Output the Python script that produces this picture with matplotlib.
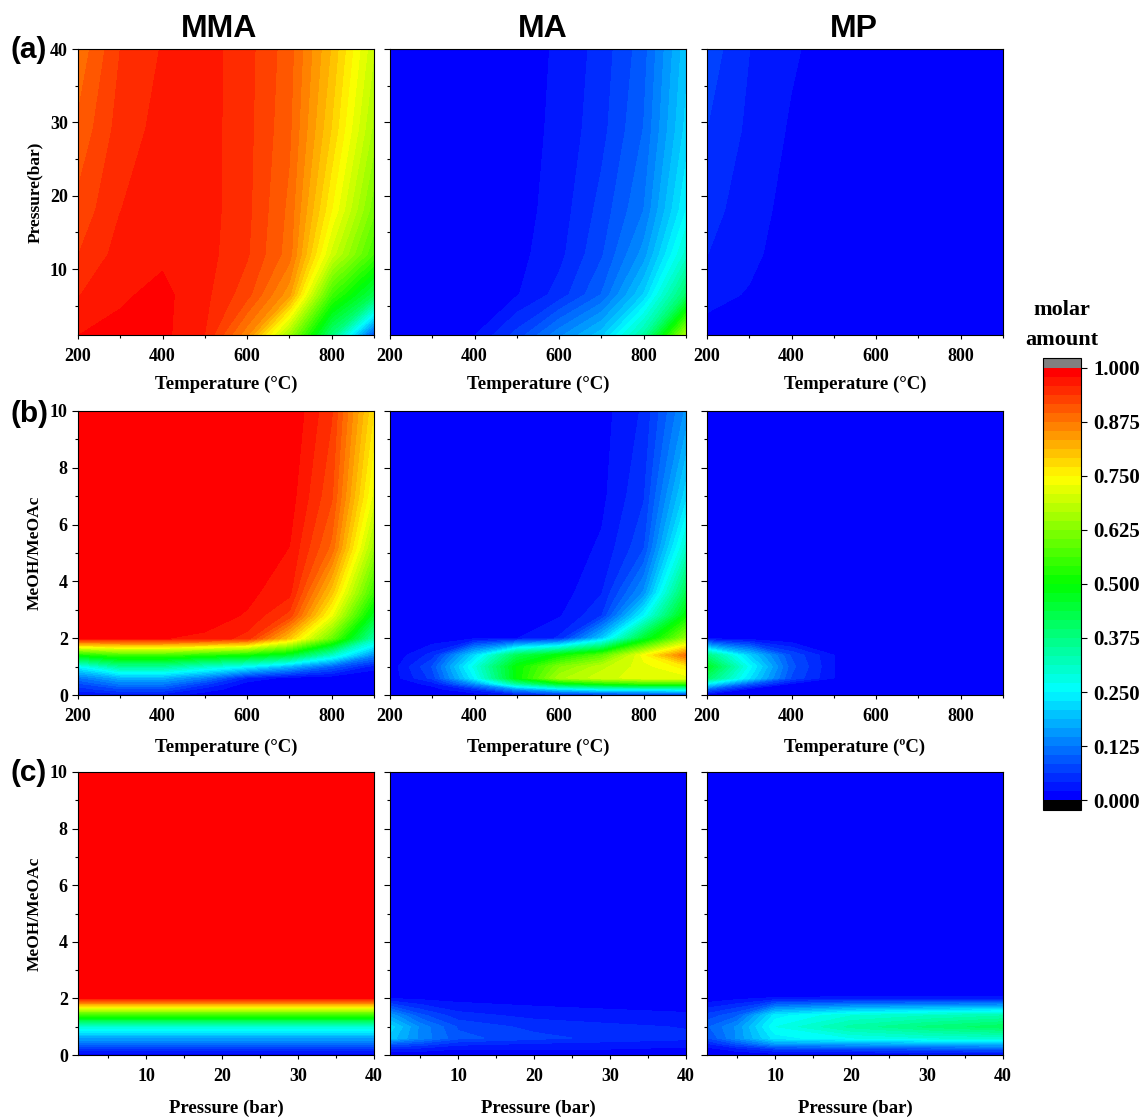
"""
Molar amount contour maps for MMA, MA and MP
"""

import matplotlib
matplotlib.use('Agg')
import matplotlib.pyplot as plt
import numpy as np
from matplotlib.cm import ScalarMappable
from matplotlib.colors import BoundaryNorm, LinearSegmentedColormap
from matplotlib.ticker import MultipleLocator

# grid axes
temps = [200, 300, 400, 500, 600, 700, 800, 900]
press_rows = [1, 6.5, 12, 18, 29, 40]
ratio_rows = [0, 0.2, 0.4, 0.6, 1, 1.4, 2, 2.8, 3.6, 5.2, 7, 10]
press_cols = [1, 5, 10, 20, 30, 40]
ratio_short = [0, 0.2, 0.4, 0.6, 1, 1.4, 2, 2.2, 10]

# (a) temperature vs pressure, one row per pressure
a_mma = [
    [.979, .985, .985, .958, .860, .650, .380, .080],
    [.957, .976, .985, .964, .925, .840, .560, .420],
    [.937, .967, .975, .967, .940, .885, .700, .560],
    [.923, .958, .970, .968, .943, .890, .750, .610],
    [.900, .947, .966, .968, .944, .900, .790, .660],
    [.880, .9375, .960, .968, .945, .905, .810, .690],
]
a_ma = [
    [0, 0, .020, .070, .140, .200, .340, .660],
    [0, 0, .003, .019, .050, .105, .210, .400],
    [0, 0, .002, .014, .035, .080, .155, .300],
    [0, 0, .002, .012, .030, .070, .125, .250],
    [0, 0, .002, .011, .026, .055, .105, .215],
    [0, 0, .002, .010, .024, .050, .095, .200],
]
a_mp = [
    [.012, .005, .002, .001, 0, 0, 0, 0],
    [.028, .019, .005, .002, 0, 0, 0, 0],
    [.042, .026, .010, .004, .001, 0, 0, 0],
    [.050, .030, .013, .005, .002, 0, 0, 0],
    [.0625, .037, .018, .007, .003, 0, 0, 0],
    [.075, .042, .024, .010, .004, 0, 0, 0],
]

# (b) temperature vs MeOH/MeOAc, one row per ratio
b_mma = [
    [.020, .030, .030, .010, .005, 0, 0, 0],
    [.050, .080, .080, .030, .008, 0, 0, 0],
    [.080, .130, .130, .070, .012, .005, 0, 0],
    [.120, .180, .180, .130, .040, .012, .005, 0],
    [.250, .350, .350, .300, .250, .180, .100, .030],
    [.500, .550, .550, .520, .500, .450, .300, .140],
    [.985, .980, .980, .975, .950, .800, .600, .330],
    [1, 1, 1, .990, .977, .930, .730, .460],
    [1, 1, 1, 1, .985, .965, .800, .550],
    [1, 1, 1, 1, .990, .979, .890, .650],
    [1, 1, 1, 1, 1, .990, .920, .720],
    [1, 1, 1, 1, 1, 1, .940, .770],
]
b_ma = [
    [0, 0, .005, .030, .040, .050, .050, .050],
    [0, .010, .050, .150, .220, .260, .270, .280],
    [0, .030, .150, .350, .470, .520, .550, .550],
    [.005, .070, .250, .500, .660, .700, .720, .720],
    [.005, .085, .280, .500, .620, .680, .720, .760],
    [.002, .050, .220, .420, .500, .580, .740, .880],
    [0, .005, .015, .020, .045, .200, .450, .640],
    [0, 0, .004, .008, .018, .060, .250, .500],
    [0, 0, .002, .005, .010, .040, .150, .420],
    [0, 0, 0, .003, .007, .024, .080, .300],
    [0, 0, 0, .002, .005, .015, .060, .220],
    [0, 0, 0, .002, .004, .012, .045, .150],
]
b_mp = [
    [.010, 0, 0, 0, 0, 0, 0, 0],
    [.100, .010, .002, 0, 0, 0, 0, 0],
    [.250, .100, .020, .005, 0, 0, 0, 0],
    [.400, .230, .080, .021, 0, 0, 0, 0],
    [.470, .260, .090, .021, 0, 0, 0, 0],
    [.380, .210, .080, .021, 0, 0, 0, 0],
    [.010, .005, 0, 0, 0, 0, 0, 0],
    [0, 0, 0, 0, 0, 0, 0, 0],
    [0, 0, 0, 0, 0, 0, 0, 0],
    [0, 0, 0, 0, 0, 0, 0, 0],
    [0, 0, 0, 0, 0, 0, 0, 0],
    [0, 0, 0, 0, 0, 0, 0, 0],
]

# (c) pressure vs MeOH/MeOAc, one row per ratio
c_mma = [
    [.010, .010, .010, .010, .010, .010],
    [.060, .060, .060, .060, .060, .060],
    [.120, .120, .120, .120, .120, .120],
    [.170, .170, .170, .170, .170, .170],
    [.300, .300, .300, .300, .300, .300],
    [.550, .550, .550, .550, .550, .550],
    [.985, .985, .985, .985, .985, .985],
    [1, 1, 1, 1, 1, 1],
    [1, 1, 1, 1, 1, 1],
]
c_ma = [
    [.005, .005, .005, .004, .004, .004],
    [.030, .030, .020, .020, .020, .015],
    [.100, .080, .050, .040, .035, .030],
    [.200, .140, .090, .070, .055, .047],
    [.220, .140, .080, .055, .047, .040],
    [.160, .090, .050, .035, .028, .024],
    [.020, .015, .012, .009, .008, .006],
    [0, 0, 0, 0, 0, 0],
    [0, 0, 0, 0, 0, 0],
]
c_mp = [
    [.005, .005, .005, .005, .010, .010],
    [.010, .030, .060, .070, .080, .090],
    [.040, .090, .160, .170, .180, .190],
    [.080, .150, .240, .270, .290, .300],
    [.100, .150, .270, .340, .380, .410],
    [.070, .100, .240, .290, .310, .330],
    [.005, .015, .025, .030, .030, .030],
    [0, 0, 0, 0, 0, 0],
    [0, 0, 0, 0, 0, 0],
]

titles = ['MMA', 'MA', 'MP']
row_tags = ['(a)', '(b)', '(c)']
cbar_ticks = [0, .125, .25, .375, .5, .625, .75, .875, 1]

W, H = 1143, 1117
SERIF = 'Liberation Serif'
SANS = 'Liberation Sans'

# pixel layout of the panels
col_left = [78, 390, 707]
col_width = 296
row_top = [49, 411, 772]
row_height = [286, 284, 283]
title_x = [219, 543, 854]
xlabel_pad = [8, 10, 10.5]

# 48 flat bands from blue to red
levels = np.linspace(0, 1, 49)
cmap = LinearSegmentedColormap.from_list(
    'bands', ['#0000ff', '#00ffff', '#00ff00', '#ffff00', '#ff0000'], N=48)
cmap.set_over('#808080')
cmap.set_under('#000000')
norm = BoundaryNorm(levels, 48)


def px_axes(fig, left, top, width, height):
    return fig.add_axes([left / W, 1 - (top + height) / H, width / W, height / H])


fig = plt.figure(figsize=(W / 100, H / 100), dpi=100)

rows = [
    (temps, press_rows, [a_mma, a_ma, a_mp], (200, 900), (1, 40), 200, 10,
     'Temperature (°C)', 'Pressure(bar)'),
    (temps, ratio_rows, [b_mma, b_ma, b_mp], (200, 900), (0, 10), 200, 2,
     'Temperature (°C)', 'MeOH/MeOAc'),
    (press_cols, ratio_short, [c_mma, c_ma, c_mp], (1, 40), (0, 10), 10, 2,
     'Pressure (bar)', 'MeOH/MeOAc'),
]

for r, (xs, ys, panels, xlim, ylim, xstep, ystep, xlabel, ylabel) in enumerate(rows):
    for c, z in enumerate(panels):
        ax = px_axes(fig, col_left[c], row_top[r], col_width, row_height[r])
        ax.contourf(xs, ys, np.array(z), levels=levels, cmap=cmap, norm=norm)
        ax.set_xlim(xlim)
        ax.set_ylim(ylim)
        ax.xaxis.set_major_locator(MultipleLocator(xstep))
        ax.xaxis.set_minor_locator(MultipleLocator(xstep / 2))
        ax.yaxis.set_major_locator(MultipleLocator(ystep))
        ax.yaxis.set_minor_locator(MultipleLocator(ystep / 2))
        ax.tick_params(axis='x', which='major', length=3.2, width=0.8, pad=6)
        ax.tick_params(axis='y', which='major', length=4.3, width=0.8, pad=3)
        ax.tick_params(which='minor', length=2.2, width=0.8)
        for side in ax.spines.values():
            side.set_linewidth(0.8)
        for lab in ax.get_xticklabels() + ax.get_yticklabels():
            lab.set_fontfamily(SERIF)
            lab.set_fontweight('bold')
            lab.set_fontsize(13)
        if c > 0:
            ax.tick_params(axis='y', which='major', labelleft=False)
        label = xlabel
        if r == 1 and c == 2:
            label = 'Temperature (ºC)'
        ax.set_xlabel(label, family=SERIF, fontweight='bold', fontsize=13.5,
                      labelpad=xlabel_pad[r])
        if c == 0:
            ax.set_ylabel(ylabel, family=SERIF, fontweight='bold', fontsize=12.5)
            ax.yaxis.set_label_coords(-35 / col_width, 0.5)
        if r == 0:
            fig.text(title_x[c] / W, 1 - 29 / H, titles[c],
                     family=SANS, fontweight='bold', fontsize=23,
                     ha='center', va='center')

for tag, y in zip(row_tags, [50, 414, 773]):
    fig.text(11 / W, 1 - y / H, tag, family=SANS, fontweight='bold', fontsize=21.5,
             ha='left', va='center')

# colour bar with grey and black end caps
cax = px_axes(fig, 1043, 358, 38, 452)
cb = fig.colorbar(ScalarMappable(norm=norm, cmap=cmap), cax=cax, extend='both',
                  extendrect=True, extendfrac=10 / 432, spacing='proportional',
                  ticks=cbar_ticks, drawedges=False)
cb.ax.minorticks_off()
cb.ax.set_yticklabels(['%.3f' % t for t in cbar_ticks], family=SERIF,
                      fontweight='bold', fontsize=15)
cb.ax.tick_params(length=4, width=0.8, pad=5)
cb.outline.set_linewidth(0.8)

fig.text(1062 / W, 1 - 310 / H, 'molar', family=SERIF, fontweight='bold', fontsize=16,
         ha='center', va='center')
fig.text(1062 / W, 1 - 340 / H, 'amount', family=SERIF, fontweight='bold', fontsize=16,
         ha='center', va='center')

fig.savefig('out.png', dpi=100)
